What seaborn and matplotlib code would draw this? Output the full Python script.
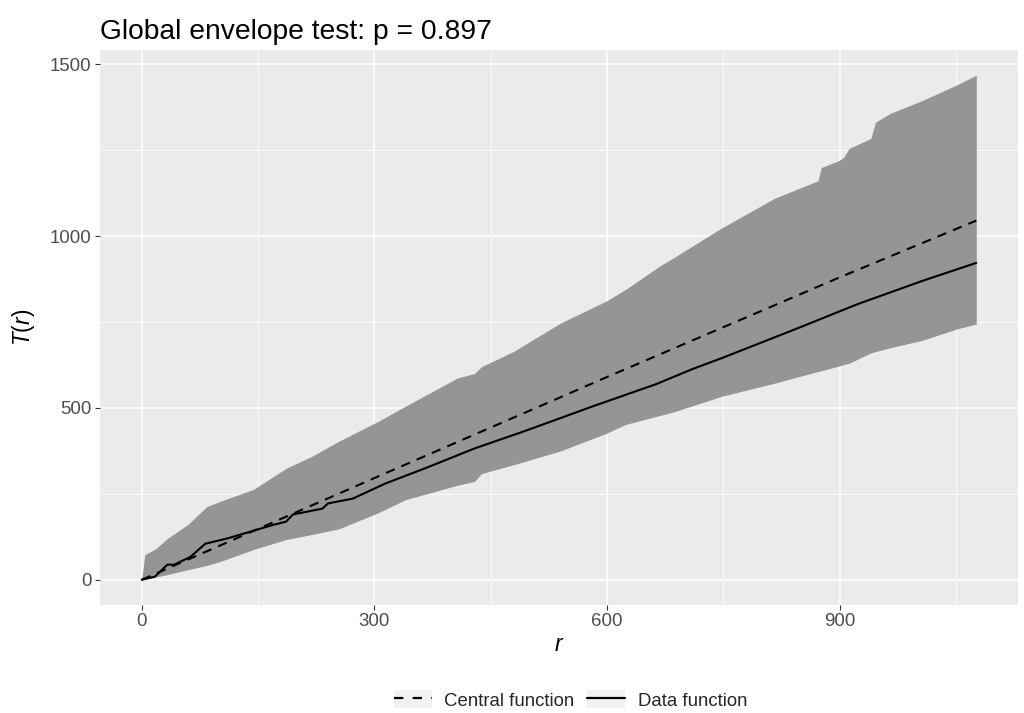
import numpy as np
import pandas as pd
import matplotlib
matplotlib.use("Agg")
import matplotlib.pyplot as plt
import seaborn as sns
from matplotlib.lines import Line2D
from matplotlib.patches import Patch
from matplotlib.legend_handler import HandlerTuple

# ---- data ----
r_env = [0, 4, 18, 33, 59, 84, 101, 144, 186, 220, 254, 305, 340, 407, 429, 438,
         480, 540, 599, 624, 668, 688, 748, 816, 872, 876, 899, 905, 912, 940,
         946, 965, 1007, 1051, 1076]
upper = [0, 73, 90, 120, 160, 213, 228, 263, 324, 360, 403, 461, 505, 587, 600, 620,
         665, 747, 811, 845, 913, 940, 1024, 1110, 1161, 1199, 1220, 1229, 1255, 1284,
         1331, 1357, 1395, 1440, 1468]
lower = [0, 2, 8, 15, 29, 42, 53, 88, 117, 132, 148, 195, 233, 275, 286, 309,
         335, 375, 426, 452, 478, 490, 534, 572, 606, 608, 622, 626, 630, 660,
         664, 675, 697, 730, 744]

r_central = [0, 300, 600, 900, 1076]
T_central = [0, 296, 590, 880, 1045]

r_data = [0, 17, 33, 42, 63, 82, 110, 170, 186, 195, 233, 240, 272, 314, 365, 429,
          493, 582, 663, 710, 748, 846, 923, 1007, 1076]
T_data = [0, 9, 44, 44, 67, 105, 120, 160, 169, 190, 207, 222, 236, 280, 324, 382,
          432, 505, 569, 613, 645, 732, 802, 870, 922]

title = "Global envelope test: p = 0.897"
legend_labels = ["Central function", "Data function"]
x_ticks = [0, 300, 600, 900]
y_ticks = [0, 500, 1000, 1500]

# ---- style ----
sns.set_theme(style="darkgrid")
plt.rcParams["font.family"] = ["Liberation Sans", "DejaVu Sans"]
plt.rcParams["mathtext.fontset"] = "custom"
plt.rcParams["mathtext.it"] = "Liberation Sans:italic"
plt.rcParams["mathtext.rm"] = "Liberation Sans"

fig = plt.figure(figsize=(10.24, 7.13), dpi=100)
ax = fig.add_axes([100/1024, 1-605/713, (1018-100)/1024, (605-50)/713])
ax.set_facecolor("#EBEBEB")

df_central = pd.DataFrame({"r": r_central, "T": T_central})
df_data = pd.DataFrame({"r": r_data, "T": T_data})

dash = (0, (4.5, 3.5))
ax.fill_between(r_env, lower, upper, color="#959595", linewidth=0, zorder=2)
sns.lineplot(data=df_central, x="r", y="T", ax=ax, color="black", lw=1.5,
             linestyle=dash, zorder=3, estimator=None, sort=False)
sns.lineplot(data=df_data, x="r", y="T", ax=ax, color="black", lw=1.5,
             zorder=3, estimator=None, sort=False)

# limits as ggplot 5% expansion
xr = (0, 1076); yr = (0, 1468)
dx = (xr[1]-xr[0])*0.05; dy = (yr[1]-yr[0])*0.05
ax.set_xlim(xr[0]-dx, xr[1]+dx)
ax.set_ylim(yr[0]-dy, yr[1]+dy)

ax.set_xticks(x_ticks)
ax.set_yticks(y_ticks)
ax.set_xticks([150, 450, 750, 1050], minor=True)
ax.set_yticks([250, 750, 1250], minor=True)
ax.grid(which="major", color="white", lw=1.1, zorder=0)
ax.grid(which="minor", color="white", lw=0.55, zorder=0)
ax.set_axisbelow(True)
for s in ax.spines.values():
    s.set_visible(False)
ax.tick_params(axis="both", which="major", length=3.5, width=0.8, color="#333333",
               labelsize=13.4, labelcolor="#4D4D4D", pad=2.5, bottom=True, left=True)
ax.tick_params(axis="both", which="minor", length=0)

ax.set_xlabel("$r$", fontsize=16.5, color="black", labelpad=2)
ax.set_ylabel("$T(r)$", fontsize=16.5, color="black", labelpad=9)
ax.set_title(title, loc="left", fontsize=20.3, color="black", pad=8, x=0.0)

key_bg = "#F2F2F2"
handles = [
    (Patch(facecolor=key_bg, edgecolor="none"),
     Line2D([], [], color="black", lw=1.6, linestyle=(0, (4.2, 4.2)))),
    (Patch(facecolor=key_bg, edgecolor="none"),
     Line2D([], [], color="black", lw=1.6)),
]
fig.legend(handles, legend_labels, loc="center", bbox_to_anchor=(0.557, 0.0185),
           ncol=2, frameon=False, fontsize=13.4, handlelength=2.05, handleheight=1.13,
           handletextpad=0.65, columnspacing=0.7, borderpad=0, borderaxespad=0,
           handler_map={tuple: HandlerTuple(ndivide=1, pad=0)})

fig.savefig("out.png", dpi=100)
